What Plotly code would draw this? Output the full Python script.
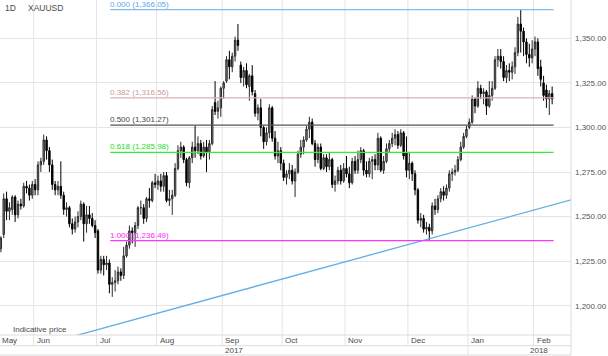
import plotly.graph_objects as go
import pandas as pd

# ---------------- data ----------------
dates = pd.bdate_range("2017-05-16", "2018-02-09")  # trading days (weekdays)

opens = [
    1232, 1240, 1260, 1253, 1254, 1261, 1251, 1257, 1256, 1267, 1266, 1262,
    1268, 1265, 1279, 1281, 1293, 1287, 1279, 1268, 1265, 1267, 1262, 1254, 1255, 1246, 1243, 1247, 1250, 1257, 1246, 1251, 1249, 1245,
    1242, 1220, 1226, 1223, 1224, 1212, 1213, 1214, 1219, 1217, 1228, 1234, 1242, 1241, 1245, 1255, 1255, 1249, 1260, 1259, 1269,
    1268, 1270, 1267, 1273, 1259, 1260, 1262, 1277, 1287, 1289, 1282, 1269, 1283, 1289, 1287, 1291, 1284, 1289, 1286, 1291, 1314, 1309, 1311,
    1322, 1326, 1338, 1334, 1340, 1349, 1335, 1328, 1332, 1323, 1329, 1319, 1308, 1311, 1300, 1292, 1297, 1311, 1294, 1284, 1287,
    1280, 1272, 1274, 1276, 1270, 1275, 1285, 1289, 1293, 1299, 1303, 1291, 1282, 1289, 1277, 1283, 1278, 1282, 1268, 1270, 1276, 1270,
    1277, 1274, 1269, 1281, 1276, 1282, 1287, 1276, 1274, 1281, 1282, 1279, 1294, 1276, 1281, 1288, 1291, 1294, 1296, 1290, 1297, 1286,
    1276, 1280, 1274, 1265, 1248, 1249, 1243, 1244, 1242, 1256, 1254, 1260, 1264, 1262, 1266, 1274, 1275, 1276, 1282, 1289, 1295,
    1300, 1303, 1316, 1312, 1322, 1319, 1320, 1312, 1318, 1322, 1338, 1340, 1337, 1328, 1332, 1331, 1334, 1342, 1358, 1354, 1348, 1341, 1339,
    1344, 1348, 1334, 1325, 1321, 1316, 1319,
]
highs = [
    1239, 1263, 1264, 1258, 1262, 1262, 1259, 1260, 1269, 1270, 1268, 1270,
    1271, 1281, 1283, 1296, 1295, 1289, 1282, 1270, 1270, 1281, 1264, 1258, 1256, 1249, 1250, 1253, 1259, 1258, 1256, 1256, 1252, 1248,
    1243, 1228, 1228, 1228, 1226, 1216, 1220, 1222, 1221, 1233, 1236, 1245, 1244, 1247, 1256, 1259, 1257, 1261, 1266, 1270, 1274,
    1273, 1274, 1275, 1275, 1265, 1265, 1280, 1290, 1292, 1290, 1283, 1284, 1292, 1301, 1295, 1293, 1292, 1293, 1293, 1312, 1326, 1315, 1323,
    1326, 1340, 1343, 1342, 1351, 1358, 1337, 1334, 1336, 1330, 1335, 1321, 1313, 1316, 1301, 1300, 1313, 1312, 1298, 1292, 1289,
    1282, 1276, 1280, 1279, 1277, 1287, 1293, 1295, 1301, 1306, 1305, 1293, 1291, 1291, 1285, 1285, 1286, 1283, 1273, 1278, 1279, 1280,
    1284, 1278, 1283, 1284, 1287, 1289, 1288, 1281, 1283, 1284, 1285, 1297, 1295, 1284, 1291, 1293, 1297, 1299, 1298, 1299, 1298, 1295,
    1286, 1281, 1276, 1266, 1252, 1251, 1247, 1246, 1258, 1260, 1262, 1266, 1267, 1268, 1276, 1277, 1279, 1284, 1292, 1297, 1301,
    1305, 1318, 1317, 1326, 1324, 1322, 1321, 1326, 1326, 1340, 1344, 1344, 1340, 1335, 1336, 1337, 1345, 1362, 1366.05, 1356, 1350, 1347, 1349,
    1351, 1350, 1338, 1329, 1324, 1321, 1323,
]
lows = [
    1230, 1238, 1248, 1248, 1251, 1247, 1249, 1254, 1255, 1263, 1259, 1260,
    1262, 1262, 1275, 1279, 1282, 1275, 1265, 1262, 1262, 1260, 1251, 1250, 1244, 1240, 1241, 1244, 1248, 1236, 1241, 1246, 1244, 1238,
    1218, 1218, 1217, 1220, 1207, 1205, 1208, 1212, 1214, 1215, 1227, 1232, 1235, 1233, 1243, 1251, 1246, 1247, 1255, 1258, 1266,
    1265, 1264, 1264, 1258, 1256, 1251, 1261, 1276, 1283, 1280, 1267, 1266, 1280, 1283, 1285, 1282, 1283, 1275, 1282, 1290, 1307, 1305, 1306,
    1316, 1325, 1327, 1331, 1337, 1343, 1325, 1323, 1322, 1315, 1318, 1306, 1304, 1295, 1288, 1290, 1294, 1292, 1282, 1280, 1276,
    1270, 1268, 1271, 1268, 1261, 1274, 1283, 1285, 1292, 1294, 1290, 1278, 1280, 1276, 1276, 1275, 1276, 1266, 1264, 1268, 1268, 1269,
    1272, 1266, 1268, 1274, 1274, 1280, 1273, 1272, 1272, 1271, 1276, 1276, 1275, 1274, 1280, 1286, 1289, 1290, 1288, 1289, 1282, 1272,
    1271, 1270, 1262, 1246, 1244, 1241, 1240, 1236.49, 1240, 1251, 1252, 1258, 1259, 1260, 1264, 1270, 1273, 1275, 1281, 1288, 1294,
    1299, 1302, 1308, 1311, 1316, 1313, 1307, 1311, 1315, 1321, 1334, 1333, 1326, 1325, 1326, 1327, 1330, 1340, 1342, 1340, 1336, 1334, 1336,
    1340, 1329, 1323, 1315, 1311, 1307, 1313,
]
closes = [
    1238, 1260, 1253, 1255, 1261, 1251, 1257, 1256, 1267, 1266, 1262, 1268,
    1265, 1279, 1281, 1293, 1287, 1279, 1268, 1265, 1267, 1262, 1254, 1255, 1246, 1243, 1247, 1250, 1257, 1246, 1251, 1249, 1245, 1241,
    1220, 1226, 1223, 1224, 1212, 1213, 1214, 1219, 1217, 1228, 1234, 1242, 1241, 1245, 1255, 1255, 1249, 1260, 1259, 1269, 1268,
    1270, 1267, 1273, 1259, 1260, 1262, 1277, 1287, 1289, 1282, 1269, 1283, 1289, 1287, 1291, 1284, 1289, 1286, 1291, 1310, 1309, 1311, 1322,
    1325, 1338, 1334, 1340, 1349, 1346, 1328, 1332, 1324, 1329, 1320, 1308, 1311, 1300, 1292, 1297, 1311, 1294, 1284, 1287, 1280,
    1272, 1274, 1276, 1270, 1275, 1285, 1289, 1293, 1299, 1303, 1291, 1282, 1289, 1277, 1283, 1278, 1282, 1268, 1270, 1276, 1270, 1277,
    1274, 1269, 1281, 1276, 1282, 1287, 1276, 1274, 1281, 1282, 1279, 1294, 1276, 1281, 1288, 1291, 1294, 1296, 1290, 1297, 1284, 1276,
    1280, 1274, 1265, 1248, 1249, 1243, 1244, 1242, 1256, 1254, 1260, 1264, 1262, 1266, 1274, 1275, 1276, 1282, 1289, 1295, 1299,
    1303, 1316, 1312, 1322, 1319, 1320, 1312, 1318, 1322, 1338, 1340, 1337, 1328, 1332, 1331, 1334, 1342, 1358, 1354, 1348, 1341, 1339, 1344,
    1348, 1333, 1327, 1318, 1316, 1319, 1316,
]

# y-axis ticks
y_ticks = [1200, 1225, 1250, 1275, 1300, 1325, 1350]

# Fibonacci retracement (high -> low)
fib_high = 1366.05
fib_low = 1236.49
fib_ratios = [0.0, 0.382, 0.5, 0.618, 1.0]
fib_colors = ["#7dbdf0", "#dbb0b0", "#555555", "#33ee33", "#ff33ff"]
fib_text_colors = ["#5aa8e8", "#c99a9a", "#444444", "#22dd22", "#ff22ff"]

# trend line anchors (trading-day position, price)
trend_pos = [12, 212]
trend_price = [1177.0, 1264.8]

symbol = "XAUUSD"
interval = "1D"
note = "Indicative price"

# ---------------- figure ----------------
xs = list(range(len(dates)))
FONT = "Arial, Liberation Sans, sans-serif"
TXT = "#4a4a4a"
GRID = "#e4e4e4"

x_lo, x_hi = -0.3, 199.6
y_lo, y_hi = 1183.6, 1371.5

fig = go.Figure()
fig.add_trace(go.Candlestick(
    x=xs, open=opens, high=highs, low=lows, close=closes,
    increasing=dict(line=dict(color="#2a2a2a", width=1), fillcolor="#8c8c8c"),
    decreasing=dict(line=dict(color="#000000", width=1), fillcolor="#000000"),
    whiskerwidth=0, showlegend=False, hoverinfo="skip",
))
fig.add_trace(go.Scatter(
    x=trend_pos, y=trend_price, mode="lines",
    line=dict(color="#62aee6", width=1.3), showlegend=False, hoverinfo="skip",
))

shapes = []
annotations = []

# month boundaries
month_starts = [i for i in range(1, len(dates)) if dates[i].month != dates[i - 1].month]
y_row1 = -0.0319   # bottom of month label row
y_row2 = -0.0597   # bottom of year row
for m in month_starts:
    bottom = y_row2 if dates[m].month == 1 else y_row1
    shapes.append(dict(type="line", xref="x", yref="paper", x0=m - 0.5, x1=m - 0.5,
                       y0=bottom, y1=1, line=dict(color=GRID, width=1), layer="below"))
    annotations.append(dict(x=m - 0.5, y=-0.0175, xref="x", yref="paper", text=dates[m].strftime("%b"),
                            showarrow=False, xanchor="left", yanchor="middle", xshift=1,
                            font=dict(family=FONT, size=8, color=TXT)))
annotations.append(dict(x=0, y=-0.0175, xref="paper", yref="paper", text=dates[0].strftime("%b"),
                        showarrow=False, xanchor="left", yanchor="middle", xshift=0,
                        font=dict(family=FONT, size=8, color=TXT)))

# horizontal frame lines under the plot and right border
for yy in [0, y_row1, y_row2]:
    shapes.append(dict(type="line", xref="paper", yref="paper", x0=0, x1=1, y0=yy, y1=yy,
                       line=dict(color="#dcdcdc", width=1)))
shapes.append(dict(type="line", xref="paper", yref="paper", x0=1, x1=1, y0=y_row2, y1=1,
                   line=dict(color="#dcdcdc", width=1)))

# year labels
jan_pos = [m for m in month_starts if dates[m].month == 1][0] - 0.5
annotations.append(dict(x=(x_lo + jan_pos) / 2, y=-0.047, xref="x", yref="paper", text=str(dates[0].year),
                        showarrow=False, xanchor="center", yanchor="middle",
                        font=dict(family=FONT, size=8, color=TXT)))
annotations.append(dict(x=jan_pos + 24.9, y=-0.047, xref="x", yref="paper", text=str(dates[-1].year),
                        showarrow=False, xanchor="center", yanchor="middle",
                        font=dict(family=FONT, size=8, color=TXT)))

# Fibonacci levels (drawn as line traces)
low_pos = lows.index(min(lows))
fx0 = low_pos - 0.7
fx1 = xs[-1] + 0.5
for r, c, tc in zip(fib_ratios, fib_colors, fib_text_colors):
    lvl = fib_high - r * (fib_high - fib_low)
    fig.add_trace(go.Scatter(x=[fx0, fx1], y=[lvl, lvl], mode="lines",
                             line=dict(color=c, width=1.3), showlegend=False, hoverinfo="skip"))
    annotations.append(dict(x=fx0, y=lvl, xref="x", yref="y", text=f"{r:.3f} ({lvl:,.2f})",
                            showarrow=False, xanchor="left", yanchor="bottom", xshift=-2, yshift=-1,
                            font=dict(family=FONT, size=8, color=tc)))

# header and note
annotations.append(dict(x=0.005, y=0.975, xref="paper", yref="paper", text=interval, showarrow=False,
                        xanchor="left", yanchor="middle", font=dict(family=FONT, size=8.5, color=TXT)))
annotations.append(dict(x=0.046, y=0.975, xref="paper", yref="paper", text=symbol, showarrow=False,
                        xanchor="left", yanchor="middle", font=dict(family=FONT, size=8.5, color=TXT)))
annotations.append(dict(x=0.02, y=0.016, xref="paper", yref="paper", text=note, showarrow=False,
                        xanchor="left", yanchor="middle", font=dict(family=FONT, size=8, color=TXT)))

fig.update_layout(
    width=608, height=356,
    margin=dict(l=0, r=37, t=0, b=21, pad=0, autoexpand=False),
    paper_bgcolor="white", plot_bgcolor="white",
    font=dict(family=FONT, size=8, color=TXT),
    shapes=shapes, annotations=annotations,
    showlegend=False,
    xaxis=dict(range=[x_lo, x_hi], showgrid=False, zeroline=False, showticklabels=False,
               ticks="", rangeslider=dict(visible=False), fixedrange=True, showline=False),
    yaxis=dict(range=[y_lo, y_hi], side="right", tickvals=y_ticks, tickformat=",.2f",
               showgrid=True, gridcolor=GRID, gridwidth=1, zeroline=False, ticks="",
               showline=False, tickfont=dict(family=FONT, size=8, color="#555555"),
               fixedrange=True, ticklabelstandoff=3),
)

fig.write_html(
    "out.html",
    config={"displayModeBar": False},
    post_script="document.body.style.margin='0';document.body.style.overflow='hidden';",
)
